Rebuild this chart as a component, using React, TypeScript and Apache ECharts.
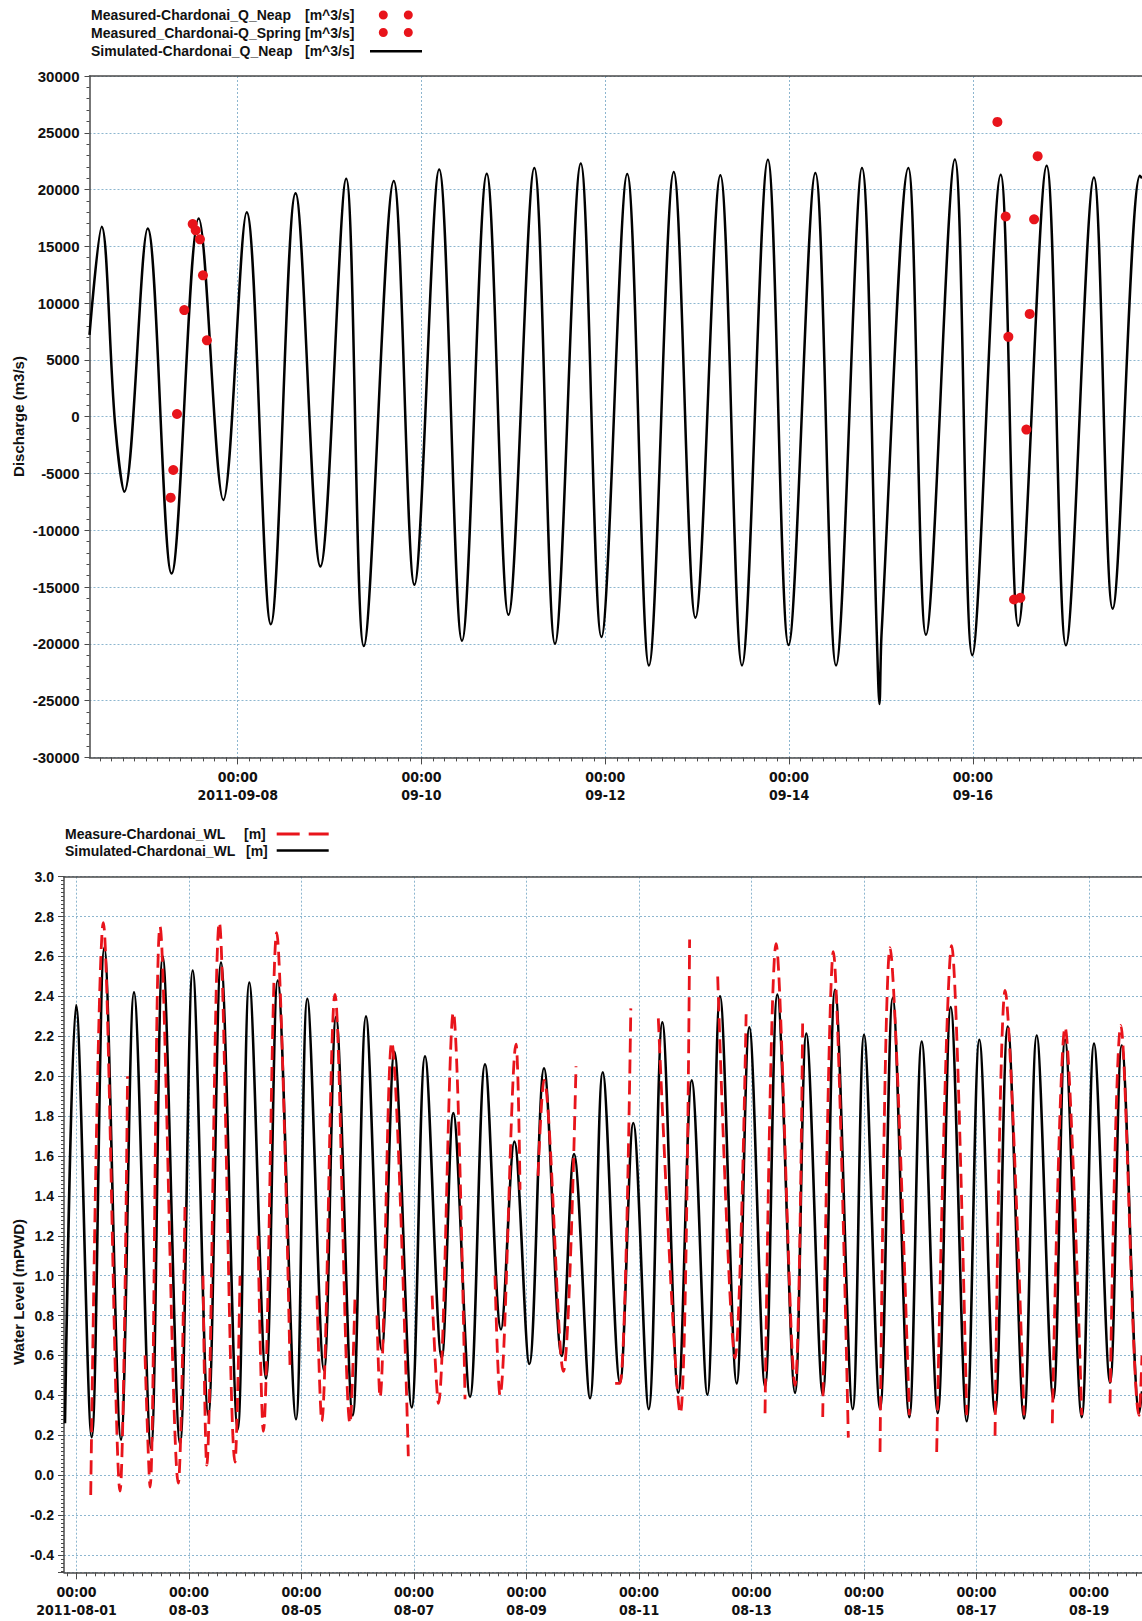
import React, { useEffect, useRef } from 'react';
import * as echarts from 'echarts';

const FONT = '"Liberation Sans", Arial, sans-serif';
const NARROW = '"Liberation Sans Narrow", "Arial Narrow", "DejaVu Sans Condensed", "Liberation Sans", sans-serif';

// ---------- Discharge at Chardonai (September 2011) ----------
const qAxisStart = '2011-09-06 09:18';
const qAxisEnd = '2011-09-17 20:10';
const qTickDays = ['2011-09-08', '2011-09-10', '2011-09-12', '2011-09-14', '2011-09-16'];

const qSimTimes = [
  '2011-09-06 09:18', '2011-09-06 12:29', '2011-09-06 15:58', '2011-09-06 18:24',
  '2011-09-07 00:30', '2011-09-07 06:44', '2011-09-07 13:49', '2011-09-07 20:15',
  '2011-09-08 02:21', '2011-09-08 08:39', '2011-09-08 15:07', '2011-09-08 21:36',
  '2011-09-09 04:20', '2011-09-09 08:56', '2011-09-09 16:46', '2011-09-09 22:09',
  '2011-09-10 04:37', '2011-09-10 10:35', '2011-09-10 17:03', '2011-09-10 22:43',
  '2011-09-11 05:28', '2011-09-11 10:52', '2011-09-11 17:36', '2011-09-11 23:00',
  '2011-09-12 05:44', '2011-09-12 11:24', '2011-09-12 17:53', '2011-09-12 23:33',
  '2011-09-13 06:03', '2011-09-13 11:42', '2011-09-13 18:28', '2011-09-13 23:52',
  '2011-09-14 06:52', '2011-09-14 12:16', '2011-09-14 19:02', '2011-09-14 22:55',
  '2011-09-14 23:36', '2011-09-15 00:10',
  '2011-09-15 07:09', '2011-09-15 11:45', '2011-09-15 19:18', '2011-09-15 23:50',
  '2011-09-16 07:16', '2011-09-16 11:51', '2011-09-16 19:16', '2011-09-17 00:18',
  '2011-09-17 07:37', '2011-09-17 12:30', '2011-09-17 19:38', '2011-09-17 20:10',
];
const qSimValues = [
  7200, 16725, -580, -6600,
  16580, -13810, 17460, -7330,
  18000, -18270, 19670, -13180,
  20950, -20200, 20750, -14800,
  21760, -19730, 21400, -17450,
  21900, -20000, 22300, -19400,
  21360, -21900, 21540, -17700,
  21270, -21900, 22630, -20100,
  21450, -21900, 21900, -19300,
  -25300, -19000,
  21900, -19200, 22640, -21000,
  21310, -18400, 22100, -20130,
  21060, -16900, 21220, 21000,
];

const qNeapTimes = [
  '2011-09-07 06:30', '2011-09-07 07:11', '2011-09-07 08:09', '2011-09-07 10:03',
  '2011-09-07 12:15', '2011-09-07 13:02', '2011-09-07 14:09', '2011-09-07 14:56',
  '2011-09-07 15:58',
];
const qNeapValues = [-7130, -4690, 240, 9390, 16960, 16410, 15620, 12450, 6725];

const qSpringTimes = [
  '2011-09-16 06:24', '2011-09-16 08:34', '2011-09-16 09:16', '2011-09-16 10:45',
  '2011-09-16 12:24', '2011-09-16 13:58', '2011-09-16 14:50', '2011-09-16 15:59',
  '2011-09-16 16:55',
];
const qSpringValues = [25960, 17630, 7030, -16100, -15950, -1135, 9050, 17380, 22940];

// ---------- Water level at Chardonai (August 2011) ----------
const wlAxisStart = '2011-07-31 18:40';
const wlAxisEnd = '2011-08-19 22:36';
const wlTickDays = [
  '2011-08-01', '2011-08-03', '2011-08-05', '2011-08-07', '2011-08-09',
  '2011-08-11', '2011-08-13', '2011-08-15', '2011-08-17', '2011-08-19',
];

const wlSimTimes = [
  '2011-07-31 19:05', '2011-07-31 23:50', '2011-08-01 06:29', '2011-08-01 11:52',
  '2011-08-01 18:59', '2011-08-02 00:32', '2011-08-02 07:47', '2011-08-02 12:47',
  '2011-08-02 20:10', '2011-08-03 01:35', '2011-08-03 08:14', '2011-08-03 13:39',
  '2011-08-03 20:47', '2011-08-04 01:44', '2011-08-04 08:51', '2011-08-04 13:51',
  '2011-08-04 21:39', '2011-08-05 02:29', '2011-08-05 09:36', '2011-08-05 14:43',
  '2011-08-05 21:51', '2011-08-06 03:31', '2011-08-06 10:13', '2011-08-06 15:36',
  '2011-08-06 23:01', '2011-08-07 04:42', '2011-08-07 11:49', '2011-08-07 16:46',
  '2011-08-07 23:54', '2011-08-08 06:18', '2011-08-08 13:07', '2011-08-08 18:48',
  '2011-08-09 01:12', '2011-08-09 07:28', '2011-08-09 15:01', '2011-08-09 20:16',
  '2011-08-10 03:06', '2011-08-10 08:31', '2011-08-10 15:54', '2011-08-10 21:34',
  '2011-08-11 04:08', '2011-08-11 09:57', '2011-08-11 16:46', '2011-08-11 22:29',
  '2011-08-12 05:09', '2011-08-12 10:34', '2011-08-12 17:41', '2011-08-12 23:04',
  '2011-08-13 05:46', '2011-08-13 11:01', '2011-08-13 18:34', '2011-08-13 23:23',
  '2011-08-14 06:23', '2011-08-14 11:38', '2011-08-14 19:11', '2011-08-15 00:00',
  '2011-08-15 06:50', '2011-08-15 12:15', '2011-08-15 19:20', '2011-08-16 00:37',
  '2011-08-16 07:27', '2011-08-16 13:00', '2011-08-16 19:49', '2011-08-17 01:12',
  '2011-08-17 07:54', '2011-08-17 13:19', '2011-08-17 20:16', '2011-08-18 01:41',
  '2011-08-18 08:46', '2011-08-18 13:46', '2011-08-18 20:53', '2011-08-19 02:08',
  '2011-08-19 08:58', '2011-08-19 13:57', '2011-08-19 21:28', '2011-08-19 22:36',
];
const wlSimValues = [
  0.26, 2.357, 0.19, 2.644,
  0.178, 2.42, 0.136, 2.6,
  0.157, 2.53, 0.3, 2.57,
  0.229, 2.47, 0.485, 2.48,
  0.28, 2.388, 0.526, 2.297,
  0.3, 2.3, 0.628, 2.122,
  0.34, 2.1, 0.587, 1.815,
  0.393, 2.06, 0.73, 1.672,
  0.557, 2.04, 0.597, 1.61,
  0.386, 2.02, 0.464, 1.765,
  0.331, 2.27, 0.413, 1.979,
  0.403, 2.4, 0.46, 2.245,
  0.444, 2.409, 0.413, 2.214,
  0.403, 2.433, 0.331, 2.208,
  0.331, 2.392, 0.291, 2.173,
  0.311, 2.347, 0.27, 2.183,
  0.311, 2.249, 0.284, 2.204,
  0.382, 2.183, 0.291, 2.163,
  0.464, 2.153, 0.311, 0.42,
];

// measured record, null marks a break in the record
const wlMeasTimes = [
  '2011-08-01 06:04', '2011-08-01 11:26', '2011-08-01 18:34', '2011-08-01 21:46', '2011-08-02 01:00',
  '2011-08-02 05:14', '2011-08-02 07:22', '2011-08-02 11:38', '2011-08-02 19:26', '2011-08-02 22:17', '2011-08-03 02:00',
  '2011-08-03 05:58', '2011-08-03 07:33', '2011-08-03 12:56', '2011-08-03 19:38', '2011-08-03 21:46', '2011-08-04 02:00',
  '2011-08-04 05:26', '2011-08-04 07:42', '2011-08-04 13:25', '2011-08-04 19:05', '2011-08-05 02:00',
  '2011-08-05 06:36', '2011-08-05 08:37', '2011-08-05 14:17', '2011-08-05 20:42', '2011-08-05 22:50', '2011-08-06 03:00',
  '2011-08-06 08:12', '2011-08-06 09:29', '2011-08-06 14:29', '2011-08-06 21:34', '2011-08-07 03:00',
  '2011-08-07 07:43', '2011-08-07 10:24', '2011-08-07 16:46', '2011-08-07 21:46', '2011-08-08 03:00',
  '2011-08-08 10:32', '2011-08-08 12:41', '2011-08-08 19:32', '2011-08-08 21:14', '2011-08-09 01:00',
  '2011-08-09 04:55', '2011-08-09 07:28', '2011-08-09 15:43', '2011-08-09 21:07', '2011-08-10 03:00',
  '2011-08-10 13:49', '2011-08-10 15:54', '2011-08-10 20:30', '2011-08-11 02:00',
  '2011-08-11 08:14', '2011-08-11 17:36', '2011-08-11 21:35', '2011-08-12 03:00',
  '2011-08-12 09:34', '2011-08-12 17:00', '2011-08-12 21:42', '2011-08-13 02:00',
  '2011-08-13 05:46', '2011-08-13 10:29', '2011-08-13 18:34', '2011-08-13 21:50', '2011-08-14 02:00',
  '2011-08-14 06:23', '2011-08-14 10:54', '2011-08-14 17:18', '2011-08-15 02:00',
  '2011-08-15 06:50', '2011-08-15 11:06', '2011-08-15 19:20', '2011-08-16 02:00',
  '2011-08-16 07:00', '2011-08-16 13:24', '2011-08-16 19:49', '2011-08-17 02:00',
  '2011-08-17 07:54', '2011-08-17 12:12', '2011-08-17 20:16', '2011-08-18 02:00',
  '2011-08-18 08:20', '2011-08-18 13:46', '2011-08-18 20:53', '2011-08-19 02:00',
  '2011-08-19 08:58', '2011-08-19 13:33', '2011-08-19 21:20', '2011-08-19 22:36',
];
const wlMeasValues = [
  -0.1, 2.77, -0.08, 2.0, null,
  0.6, -0.06, 2.75, -0.04, 1.36, null,
  1.0, 0.05, 2.77, 0.065, 1.0, null,
  1.2, 0.22, 2.72, 0.55, null,
  0.9, 0.27, 2.41, 0.26, 0.9, null,
  0.8, 0.39, 2.17, 0.095, null,
  0.9, 0.36, 2.32, 0.38, null,
  1.0, 0.4, 2.16, 1.43, null,
  1.5, 1.98, 0.52, 2.05, null,
  0.46, 0.46, 2.34, null,
  2.29, 0.31, 2.685, null,
  2.5, 0.587, 2.31, null,
  0.31, 2.664, 0.45, 2.297, null,
  0.291, 2.624, 0.188, null,
  0.116, 2.644, 0.3, null,
  0.116, 2.654, 0.3, null,
  0.198, 2.43, 0.3, null,
  0.26, 2.245, 0.3, null,
  0.36, 2.255, 0.3, 0.6,
];

const toMs = (s: string) =>
  Date.UTC(+s.slice(0, 4), +s.slice(5, 7) - 1, +s.slice(8, 10), +(s.slice(11, 13) || 0), +(s.slice(14, 16) || 0));

const pairs = (times: string[], values: (number | null)[]) =>
  times.map((t, i) => [toMs(t), values[i] === null ? '-' : values[i]]);

const HOUR = 3600000;
const everyHours = (a: number, b: number, h: number) => {
  const out: number[] = [];
  let t = Math.ceil(a / (h * HOUR)) * h * HOUR;
  for (; t <= b; t += h * HOUR) out.push(t);
  return out;
};

const dayLabel = (ms: number, withYear: boolean) => {
  const d = new Date(ms);
  const mm = String(d.getUTCMonth() + 1).padStart(2, '0');
  const dd = String(d.getUTCDate()).padStart(2, '0');
  return '00:00\n' + (withYear ? `${d.getUTCFullYear()}-${mm}-${dd}` : `${mm}-${dd}`);
};

const AXIS_COLOR = '#4a4a4a';
const RED = '#e8141b';
const GRID_LINE = { color: '#8db6cf', width: 1, type: [2, 2] as any };

const timeAxes = (gridIndex: number, start: string, end: string, days: string[], minorHours: number) => {
  const min = toMs(start);
  const max = toMs(end);
  const majors = days.map((d) => toMs(d));
  return [
    {
      type: 'value', gridIndex, min, max, position: 'bottom',
      axisLine: { show: true, onZero: false, lineStyle: { color: AXIS_COLOR, width: 1.5 } },
      axisTick: { show: true, customValues: majors, length: 7, lineStyle: { color: AXIS_COLOR } },
      axisLabel: {
        customValues: majors,
        formatter: (v: number) => dayLabel(v, v === majors[0]),
        fontFamily: NARROW, fontWeight: 'bold', fontSize: 14, lineHeight: 18, color: '#111', margin: 11,
      },
      splitLine: { show: true, lineStyle: GRID_LINE },
    },
    {
      type: 'value', gridIndex, min, max, position: 'bottom',
      axisLine: { show: false, onZero: false },
      axisTick: { show: true, customValues: everyHours(min, max, minorHours), length: 4, lineStyle: { color: AXIS_COLOR } },
      axisLabel: { show: false },
      splitLine: { show: false },
    },
    {
      type: 'value', gridIndex, min, max, position: 'top',
      axisLine: { show: true, onZero: false, lineStyle: { color: AXIS_COLOR, width: 1.5 } },
      axisTick: { show: false }, axisLabel: { show: false }, splitLine: { show: false },
    },
  ];
};

const legendText = (units: Record<string, string>, w1: number, w2: number) => ({
  formatter: (name: string) => `{n|${name}}{u|${units[name]}}`,
  textStyle: {
    rich: {
      n: { width: w1, align: 'left', fontFamily: FONT, fontWeight: 'bold', fontSize: 14, lineHeight: 17, color: '#111' },
      u: { width: w2, align: 'left', fontFamily: FONT, fontWeight: 'bold', fontSize: 14, lineHeight: 17, color: '#111' },
    },
  },
});

const qUnits = {
  'Measured-Chardonai_Q_Neap': '[m^3/s]',
  'Measured_Chardonai-Q_Spring': '[m^3/s]',
  'Simulated-Chardonai_Q_Neap': '[m^3/s]',
};
const wlUnits = { 'Measure-Chardonai_WL': '[m]', 'Simulated-Chardonai_WL': '[m]' };

export default function App() {
  const ref = useRef<HTMLDivElement>(null);

  useEffect(() => {
    if (!ref.current) return;
    const chart = echarts.init(ref.current, null, { renderer: 'svg' });

    const option = {
      animation: false,
      backgroundColor: '#ffffff',
      textStyle: { fontFamily: FONT },
      grid: [
        { left: 89.5, top: 76, right: 0, height: 681.4 },
        { left: 64, top: 876.7, right: 0, height: 695.6 },
      ],
      xAxis: [
        ...timeAxes(0, qAxisStart, qAxisEnd, qTickDays, 3),
        ...timeAxes(1, wlAxisStart, wlAxisEnd, wlTickDays, 4),
      ],
      yAxis: [
        {
          type: 'value', gridIndex: 0, min: -30000, max: 30000, interval: 5000,
          axisLine: { show: true, lineStyle: { color: AXIS_COLOR, width: 1.5 } },
          axisTick: { show: true, length: 5, lineStyle: { color: AXIS_COLOR } },
          minorTick: { show: true, splitNumber: 5, length: 3, lineStyle: { color: AXIS_COLOR } },
          axisLabel: {
            fontFamily: FONT, fontWeight: 'bold', fontSize: 15, color: '#111', margin: 10,
            formatter: (v: number) => String(v),
          },
          splitLine: { show: true, lineStyle: GRID_LINE },
        },
        {
          type: 'value', gridIndex: 1, min: -0.487, max: 3.0, splitNumber: 17, minInterval: 0.2, maxInterval: 0.2,
          axisLine: { show: true, lineStyle: { color: AXIS_COLOR, width: 1.5 } },
          axisTick: { show: true, length: 6, lineStyle: { color: AXIS_COLOR } },
          minorTick: { show: true, splitNumber: 10, length: 3, lineStyle: { color: AXIS_COLOR } },
          axisLabel: {
            showMinLabel: false, fontFamily: FONT, fontWeight: 'bold', fontSize: 14, color: '#111', margin: 10,
            formatter: (v: number) => v.toFixed(1),
          },
          splitLine: { show: true, lineStyle: GRID_LINE },
        },
      ],
      legend: [
        {
          data: ['Measured-Chardonai_Q_Neap', 'Measured_Chardonai-Q_Spring'],
          orient: 'vertical', left: 91, top: 8, padding: 0, itemGap: 3.5, align: 'right',
          itemWidth: 34, itemHeight: 9, selectedMode: false,
          icon: 'path://M0,4.5a4.5,4.5 0 1,0 9,0a4.5,4.5 0 1,0 -9,0zM25,4.5a4.5,4.5 0 1,0 9,0a4.5,4.5 0 1,0 -9,0z',
          itemStyle: { color: RED, opacity: 1 },
          ...legendText(qUnits, 214, 68.8),
        },
        {
          data: ['Simulated-Chardonai_Q_Neap'],
          orient: 'vertical', left: 91, top: 44.3, padding: 0, align: 'right',
          itemWidth: 52, itemHeight: 2.5, selectedMode: false, icon: 'rect',
          itemStyle: { color: '#000' },
          ...legendText(qUnits, 214, 60),
        },
        {
          data: ['Measure-Chardonai_WL'],
          orient: 'vertical', left: 65, top: 826.9, padding: 0, align: 'right',
          itemWidth: 52, itemHeight: 3, selectedMode: false,
          icon: 'path://M0,0H23V3H0ZM32,0H52V3H32Z',
          itemStyle: { color: RED },
          ...legendText(wlUnits, 179, 27.7),
        },
        {
          data: ['Simulated-Chardonai_WL'],
          orient: 'vertical', left: 65, top: 843.6, padding: 0, align: 'right',
          itemWidth: 52, itemHeight: 2.5, selectedMode: false, icon: 'rect',
          itemStyle: { color: '#000' },
          ...legendText(wlUnits, 181, 25.7),
        },
      ],
      graphic: [
        {
          type: 'text', x: 18, y: 416.5, rotation: Math.PI / 2,
          style: { text: 'Discharge (m3/s)', font: `bold 15px ${FONT}`, fill: '#111', align: 'center', verticalAlign: 'middle' },
        },
        {
          type: 'text', x: 18, y: 1292, rotation: Math.PI / 2,
          style: { text: 'Water Level (mPWD)', font: `bold 15px ${FONT}`, fill: '#111', align: 'center', verticalAlign: 'middle' },
        },
      ],
      series: [
        {
          name: 'Simulated-Chardonai_Q_Neap', type: 'line', xAxisIndex: 0, yAxisIndex: 0,
          data: pairs(qSimTimes, qSimValues), smooth: 0.35, symbol: 'none',
          lineStyle: { color: '#000', width: 2.5 }, itemStyle: { color: '#000' }, z: 2,
        },
        {
          name: 'Measured-Chardonai_Q_Neap', type: 'scatter', xAxisIndex: 0, yAxisIndex: 0,
          data: pairs(qNeapTimes, qNeapValues), symbol: 'circle', symbolSize: 10,
          itemStyle: { color: RED, opacity: 1 }, z: 3,
        },
        {
          name: 'Measured_Chardonai-Q_Spring', type: 'scatter', xAxisIndex: 0, yAxisIndex: 0,
          data: pairs(qSpringTimes, qSpringValues), symbol: 'circle', symbolSize: 10,
          itemStyle: { color: RED, opacity: 1 }, z: 3,
        },
        {
          name: 'Simulated-Chardonai_WL', type: 'line', xAxisIndex: 3, yAxisIndex: 1,
          data: pairs(wlSimTimes, wlSimValues), smooth: 0.35, symbol: 'none',
          lineStyle: { color: '#000', width: 2.6 }, itemStyle: { color: '#000' }, z: 2,
        },
        {
          name: 'Measure-Chardonai_WL', type: 'line', xAxisIndex: 3, yAxisIndex: 1,
          data: pairs(wlMeasTimes, wlMeasValues), smooth: 0.35, symbol: 'none', connectNulls: false,
          lineStyle: { color: RED, width: 2.8, type: [14, 7] }, itemStyle: { color: RED }, z: 3,
        },
      ],
    };

    chart.setOption(option as any);
    return () => chart.dispose();
  }, []);

  return (
    <div
      ref={ref}
      style={{ position: 'absolute', left: 0, top: 0, width: 1142, height: 1621, background: '#fff' }}
    />
  );
}
